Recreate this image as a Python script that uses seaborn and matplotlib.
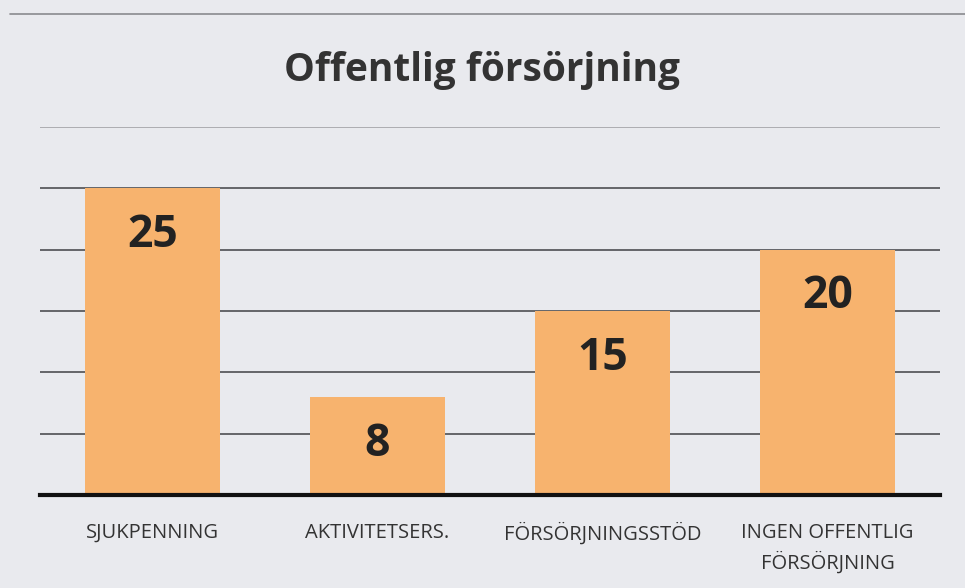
import matplotlib
matplotlib.use("Agg")
import matplotlib.pyplot as plt
import seaborn as sns
import pandas as pd

categories = ["SJUKPENNING", "AKTIVITETSERS.", "FÖRSÖRJNINGSSTÖD", "INGEN OFFENTLIG\nFÖRSÖRJNING"]
values = [25, 8, 15, 20]
title = "Offentlig försörjning"

sns.set_theme(style="white")
plt.rcParams["font.family"] = ["Open Sans", "DejaVu Sans"]

bg = "#e9eaee"
fig = plt.figure(figsize=(9.65, 5.88), dpi=100, facecolor=bg)
ax = fig.add_axes([40/965, 93/588, 900/965, (495-127)/588])
ax.set_facecolor(bg)

df = pd.DataFrame({"cat": categories, "val": values})
sns.barplot(data=df, x="cat", y="val", color="#F7B36E", saturation=1,
            width=0.6, ax=ax, edgecolor="none")

ax.set_ylim(0, 30)
ax.set_xlim(-0.5, 3.5)
ax.set_yticks(range(5, 31, 5))
ax.set_yticklabels([])
ax.tick_params(axis="y", length=0)
ax.yaxis.grid(True, color="#5a5a5e", linewidth=1.3)
gl = ax.get_ygridlines()
gl[-1].set_color("#a8a8ac")
ax.set_axisbelow(True)
for s in ["top", "right", "left"]:
    ax.spines[s].set_visible(False)
ax.spines["bottom"].set_color("#111111")
ax.spines["bottom"].set_linewidth(3)
ax.set_xlabel("")
ax.set_ylabel("")
ax.tick_params(axis="x", length=0, pad=20, labelsize=14.5, labelcolor="#333333")
for lab in ax.get_xticklabels():
    lab.set_linespacing(1.5)

for i, v in enumerate(values):
    ax.annotate(str(v), xy=(i, v), xytext=(0, -34), textcoords="offset points",
                ha="center", va="center", fontsize=32, fontweight="bold", color="#222222")

fig.text(0.5, 1 - 70/588, title, ha="center", va="center", fontsize=28,
         fontweight="bold", color="#333333")
fig.add_artist(plt.Line2D([10/965, 1], [1 - 14/588, 1 - 14/588], color="#8a8a8e", lw=1.2))

fig.savefig("out.png", dpi=100, facecolor=bg)
